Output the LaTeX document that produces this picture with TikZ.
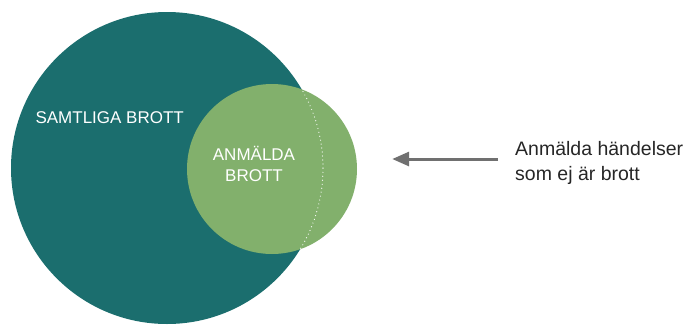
\documentclass[tikz,border=0pt]{standalone}
\usepackage{fontspec}
\setmainfont{Liberation Sans}
\usepackage{tikz}
\usetikzlibrary{arrows.meta}
\definecolor{brottteal}{RGB}{27,110,110}
\definecolor{anmgreen}{RGB}{130,176,108}
\definecolor{pilgray}{RGB}{112,112,112}
\tikzset{mangd/.style={circle, inner sep=0pt},
	etikett/.style={text=white, font=\fontsize{17}{21}\selectfont},
	pil/.style={draw=pilgray, line width=3pt, -{Triangle[length=17pt,width=14pt]}}}
\begin{document}
\begin{tikzpicture}[x=1pt, y=-1pt]
\useasboundingbox (0,0) rectangle (689,325);
% the two sets
\node[mangd, fill=brottteal, minimum size=312pt] (alla) at (167,168) {};
\node[mangd, fill=anmgreen, minimum size=170pt] (anmalda) at (272,169) {};
% border of the big set, seen through the small one
\begin{scope}
	\clip (anmalda.center) circle[radius=85pt];
	\draw[white, line width=1.2pt, line cap=round, dash pattern=on 0pt off 4pt] (alla.center) circle[radius=156pt];
\end{scope}
\node[etikett, anchor=base west] (samtliga) at (32,123) {SAMTLIGA BROTT};
\node[etikett, align=center] (anmtext) at (254,164) {ANMÄLDA\\BROTT};
% note on the right
\node[font=\fontsize{19.5}{25}\selectfont, text=black!85, align=left, anchor=west, inner sep=0pt] (hand) at (515,163) {Anmälda händelser\\som ej är brott};
\draw[pil, shorten <=17pt, shorten >=35pt] ([yshift=4pt]hand.west) -- ([yshift=4pt]hand.west -| anmalda.east);
\end{tikzpicture}
\end{document}
